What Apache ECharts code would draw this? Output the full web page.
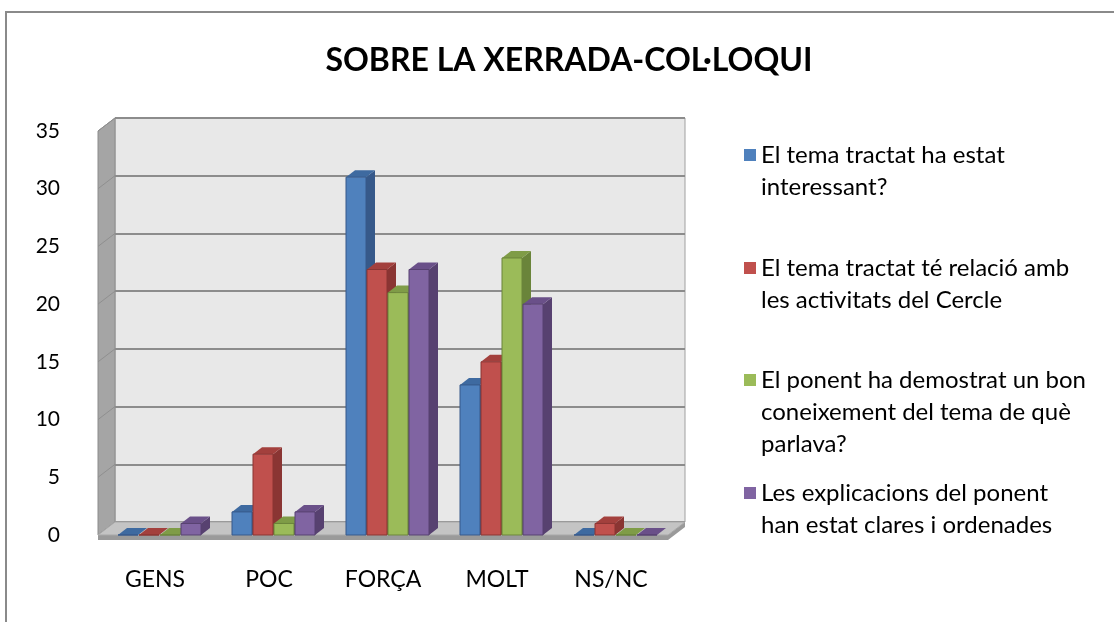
<!DOCTYPE html>
<html>
<head>
<meta charset="utf-8">
<script src="https://cdn.jsdelivr.net/npm/echarts@6/dist/echarts.min.js"></script>
<style>
  html, body { margin: 0; padding: 0; background: #fff; }
  #main { width: 1114px; height: 622px; }
</style>
</head>
<body>
<div id="main"></div>
<script>
// categories and answers
var categories = ['GENS', 'POC', 'FORÇA', 'MOLT', 'NS/NC'];
var seriesNames = [
  'El tema tractat ha estat interessant?',
  'El tema tractat té relació amb les activitats del Cercle',
  'El ponent ha demostrat un bon coneixement del tema de què parlava?',
  'Les explicacions del ponent han estat clares i ordenades'
];
var legendLines = [
  ['El tema tractat ha estat', 'interessant?'],
  ['El tema tractat té relació amb', 'les activitats del Cercle'],
  ['El ponent ha demostrat un bon', 'coneixement del tema de què', 'parlava?'],
  ['Les explicacions del ponent', 'han estat clares i ordenades']
];
var interessant = [0, 2, 31, 13, 0];
var relacio = [0, 7, 23, 15, 1];
var coneixement = [0, 1, 21, 24, 0];
var explicacions = [1, 2, 23, 20, 0];
var yTicks = [0, 5, 10, 15, 20, 25, 30, 35];

var allValues = [interessant, relacio, coneixement, explicacions];
var frontColors = ['#4f81bd', '#c0504d', '#9bbb59', '#8064a2'];
var topColors = ['#3e6aa0', '#a3403d', '#7f9c47', '#6a5089'];
var sideColors = ['#36598a', '#8a3533', '#6a843a', '#574170'];

var FONT = 'Lato';
var DX = 9, DY = 7;       // bar depth
var WX = 17, WY = 13;     // wall depth

var myChart = echarts.init(document.getElementById('main'));

function renderWalls(params, api) {
  var cs = params.coordSys;
  var x0 = cs.x, x1 = cs.x + cs.width, yb = cs.y + cs.height, yt = cs.y;
  var children = [];
  // left wall
  children.push({
    type: 'polygon',
    shape: { points: [[x0, yt], [x0 + WX, yt - WY], [x0 + WX, yb - WY], [x0, yb]] },
    style: { fill: '#a5a5a5', stroke: '#8c8c8c', lineWidth: 1 }
  });
  // ticks across the left wall
  for (var i = 0; i < yTicks.length; i++) {
    var y = api.coord([0, yTicks[i]])[1];
    children.push({
      type: 'line',
      shape: { x1: x0, y1: y, x2: x0 + WX, y2: y - WY },
      style: { stroke: '#8f8f8f', lineWidth: 1 }
    });
  }
  // floor slab edge
  children.push({
    type: 'polygon',
    shape: { points: [[x0, yb], [x1, yb], [x1 + WX, yb - WY], [x1 + WX, yb - WY + 5], [x1, yb + 5], [x0, yb + 5]] },
    style: { fill: '#9a9a9a' }
  });
  // floor top
  children.push({
    type: 'polygon',
    shape: { points: [[x0, yb], [x1, yb], [x1 + WX, yb - WY], [x0 + WX, yb - WY]] },
    style: { fill: '#c4c4c4', stroke: '#a8a8a8', lineWidth: 1 }
  });
  return { type: 'group', children: children };
}

function makeBarRenderer(idx) {
  return function (params, api) {
    var c = api.value(0);
    var top = api.coord([c, api.value(1)]);
    var base = api.coord([c, 0]);
    var w = 20;
    var x = top[0] - 37 + idx * 21;
    var yt = top[1], yb = base[1];
    return {
      type: 'group',
      children: [
        {
          type: 'polygon',
          shape: { points: [[x + w, yt], [x + w + DX, yt - DY], [x + w + DX, yb - DY], [x + w, yb]] },
          style: { fill: sideColors[idx] }
        },
        {
          type: 'polygon',
          shape: { points: [[x, yt], [x + DX, yt - DY], [x + w + DX, yt - DY], [x + w, yt]] },
          style: { fill: topColors[idx] }
        },
        {
          type: 'rect',
          shape: { x: x, y: yt, width: w, height: yb - yt },
          style: { fill: api.visual('color'), stroke: sideColors[idx], lineWidth: 1 }
        }
      ]
    };
  };
}

var series = [
  {
    type: 'custom',
    xAxisIndex: 1, yAxisIndex: 1,
    z: 1,
    silent: true,
    renderItem: renderWalls,
    data: [[0, 0]]
  }
];
allValues.forEach(function (vals, i) {
  series.push({
    type: 'custom',
    name: seriesNames[i],
    xAxisIndex: 1, yAxisIndex: 1,
    z: 2,
    itemStyle: { color: frontColors[i] },
    renderItem: makeBarRenderer(i),
    data: vals.map(function (v, k) { return [k, v]; })
  });
});

// one legend block per series, the icon lines up with the first text line
var legendTops = [107, 220, 300, 445];
var legends = seriesNames.map(function (name, i) {
  return {
    data: [name],
    left: 744,
    top: legendTops[i],
    padding: 0,
    icon: 'rect',
    itemWidth: 12,
    itemHeight: 12,
    selectedMode: false,
    formatter: function () {
      var lines = legendLines[i];
      var pad = [];
      for (var k = 1; k < lines.length; k++) pad.push('');
      return pad.concat(lines).join('\n');
    },
    textStyle: { fontFamily: FONT, fontSize: 24, color: '#000', lineHeight: 32 }
  };
});

var option = {
  backgroundColor: '#ffffff',
  animation: false,
  title: {
    text: 'SOBRE LA XERRADA-COL·LOQUI',
    left: 564,
    textAlign: 'center',
    top: 40,
    textStyle: { fontFamily: FONT, fontWeight: 'bold', fontSize: 32, color: '#000' }
  },
  legend: legends,
  graphic: [
    {
      type: 'polyline',
      shape: { points: [[6, 640], [6, 12], [1130, 12]] },
      style: { stroke: '#8a8a8a', lineWidth: 2, fill: null },
      z: 0
    }
  ],
  grid: [
    { left: 115, top: 118, width: 570, height: 404, show: true, backgroundColor: '#e8e8e8', borderColor: '#a0a0a0', borderWidth: 1 },
    { left: 98, top: 131, width: 570, height: 404 }
  ],
  xAxis: [
    { gridIndex: 0, type: 'category', data: categories, show: false },
    {
      gridIndex: 1, type: 'category', data: categories,
      axisLine: { show: false }, axisTick: { show: false },
      axisLabel: { fontFamily: FONT, fontSize: 23, color: '#000', margin: 33 }
    }
  ],
  yAxis: [
    {
      gridIndex: 0, type: 'value', min: 0, max: 35, interval: 5,
      axisLine: { show: false }, axisTick: { show: false }, axisLabel: { show: false },
      splitLine: { lineStyle: { color: '#8c8c8c', width: 2 } }
    },
    {
      gridIndex: 1, type: 'value', min: 0, max: 35, interval: 5,
      axisLine: { show: false }, axisTick: { show: false },
      splitLine: { show: false },
      axisLabel: { fontFamily: FONT, fontSize: 21, color: '#000', margin: 38 }
    }
  ],
  series: series
};

myChart.setOption(option);
</script>
</body>
</html>
